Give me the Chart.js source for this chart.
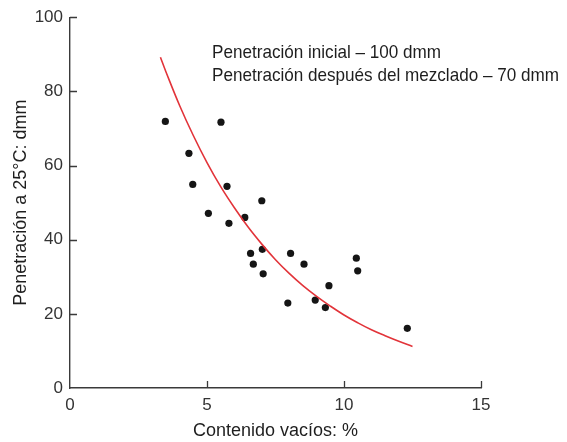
<!DOCTYPE html>
<html>
<head>
<meta charset="utf-8">
<script src="https://cdn.jsdelivr.net/npm/chart.js@4/dist/chart.umd.min.js"></script>
<style>
  html, body { margin: 0; padding: 0; background: #ffffff; }
  #wrap { width: 567px; height: 442px; }
</style>
</head>
<body>
<div id="wrap"><canvas id="c" width="567" height="442"></canvas></div>
<script>
// Measured samples: void content (%) and penetration at 25 °C (dmm)
const voidContent = [3.48, 4.34, 4.48, 5.05, 5.51, 5.73, 5.80, 6.38, 6.59, 6.69, 7.00,
                     7.02, 7.05, 8.05, 7.95, 8.54, 8.95, 9.32, 9.45, 10.45, 10.50, 12.31];
const penetration = [71.9, 63.3, 54.9, 47.1, 71.7, 54.4, 44.4, 46.0, 36.3, 33.4, 50.5,
                     37.4, 30.8, 36.3, 22.9, 33.4, 23.7, 21.7, 27.6, 35.0, 31.6, 16.1];

// Trend line through the samples
const trendX = [3.3, 3.5, 4.0, 4.5, 5.0, 5.5, 6.0, 6.5, 7.0, 7.5, 8.0, 8.5, 9.0, 9.5,
                10.0, 10.5, 11.0, 11.5, 12.0, 12.5];
const trendY = [89.2, 85.3, 76.2, 68.1, 60.8, 54.3, 48.6, 43.4, 38.8, 34.6, 30.9, 27.6,
                24.7, 22.1, 19.7, 17.6, 15.7, 14.1, 12.6, 11.2];

const xTicks = [0, 5, 10, 15];
const yTicks = [0, 20, 40, 60, 80, 100];

const notes = [
  'Penetración inicial – 100 dmm',
  'Penetración después del mezclado – 70 dmm'
];

const FONT = '"Liberation Sans", Arial, Helvetica, sans-serif';
const AXIS_COLOR = '#3a3a3a';

// Short tick marks pointing into the plot area
const innerTicks = {
  id: 'innerTicks',
  afterDraw(chart) {
    const { ctx, chartArea, scales } = chart;
    const len = 7;
    ctx.save();
    ctx.strokeStyle = AXIS_COLOR;
    ctx.lineWidth = 1.3;
    ctx.beginPath();
    xTicks.forEach(v => {
      if (v === 0) return;
      const px = Math.round(scales.x.getPixelForValue(v)) + 0.5;
      ctx.moveTo(px, chartArea.bottom);
      ctx.lineTo(px, chartArea.bottom - len);
    });
    yTicks.forEach(v => {
      if (v === 0) return;
      const py = Math.round(scales.y.getPixelForValue(v)) + 0.5;
      ctx.moveTo(chartArea.left, py);
      ctx.lineTo(chartArea.left + len, py);
    });
    ctx.stroke();
    ctx.restore();
  }
};

// Two-line note in the upper right of the plot, set in a slightly condensed face
const noteText = {
  id: 'noteText',
  afterDraw(chart) {
    const { ctx, chartArea } = chart;
    const squeeze = 0.9;
    ctx.save();
    ctx.fillStyle = '#1e1e1e';
    ctx.font = '19px ' + FONT;
    ctx.textAlign = 'left';
    ctx.textBaseline = 'alphabetic';
    const x0 = chartArea.left + 142;
    ctx.translate(x0, 0);
    ctx.scale(squeeze, 1);
    ctx.fillText(notes[0], 0, chartArea.top + 40.5);
    ctx.fillText(notes[1], 0, chartArea.top + 63.5);
    ctx.restore();
  }
};

new Chart(document.getElementById('c'), {
  type: 'scatter',
  data: {
    datasets: [
      {
        type: 'line',
        data: trendX.map((x, i) => ({ x, y: trendY[i] })),
        borderColor: '#e2343a',
        borderWidth: 1.6,
        pointRadius: 0,
        tension: 0.4,
        fill: false
      },
      {
        data: voidContent.map((x, i) => ({ x, y: penetration[i] })),
        backgroundColor: '#151515',
        borderColor: '#151515',
        borderWidth: 0,
        pointRadius: 3.6
      }
    ]
  },
  options: {
    responsive: false,
    animation: false,
    devicePixelRatio: 1,
    layout: { padding: { top: 14, right: 86, bottom: 0, left: 0 } },
    plugins: {
      legend: { display: false },
      tooltip: { enabled: false }
    },
    scales: {
      x: {
        type: 'linear',
        min: 0, max: 15,
        afterBuildTicks(scale) { scale.ticks = xTicks.map(v => ({ value: v })); },
        afterFit(scale) { scale.height = 54; },
        grid: { display: false, drawTicks: false },
        border: { display: true, color: AXIS_COLOR, width: 1.4 },
        ticks: { color: '#333', padding: 7, font: { family: FONT, size: 17 } },
        title: {
          display: true,
          text: 'Contenido vacíos: %',
          color: '#1e1e1e',
          font: { family: FONT, size: 18 },
          padding: { top: 0, bottom: 0 }
        }
      },
      y: {
        type: 'linear',
        min: 0, max: 100,
        afterBuildTicks(scale) { scale.ticks = yTicks.map(v => ({ value: v })); },
        afterFit(scale) { scale.width = 70; },
        grid: { display: false, drawTicks: false },
        border: { display: true, color: AXIS_COLOR, width: 1.4 },
        ticks: { color: '#333', padding: 7, font: { family: FONT, size: 17 } },
        title: {
          display: true,
          text: 'Penetración a 25°C: dmm',
          color: '#1e1e1e',
          font: { family: FONT, size: 18 },
          padding: { top: 10, bottom: 0 }
        }
      }
    }
  },
  plugins: [innerTicks, noteText]
});
</script>
</body>
</html>
